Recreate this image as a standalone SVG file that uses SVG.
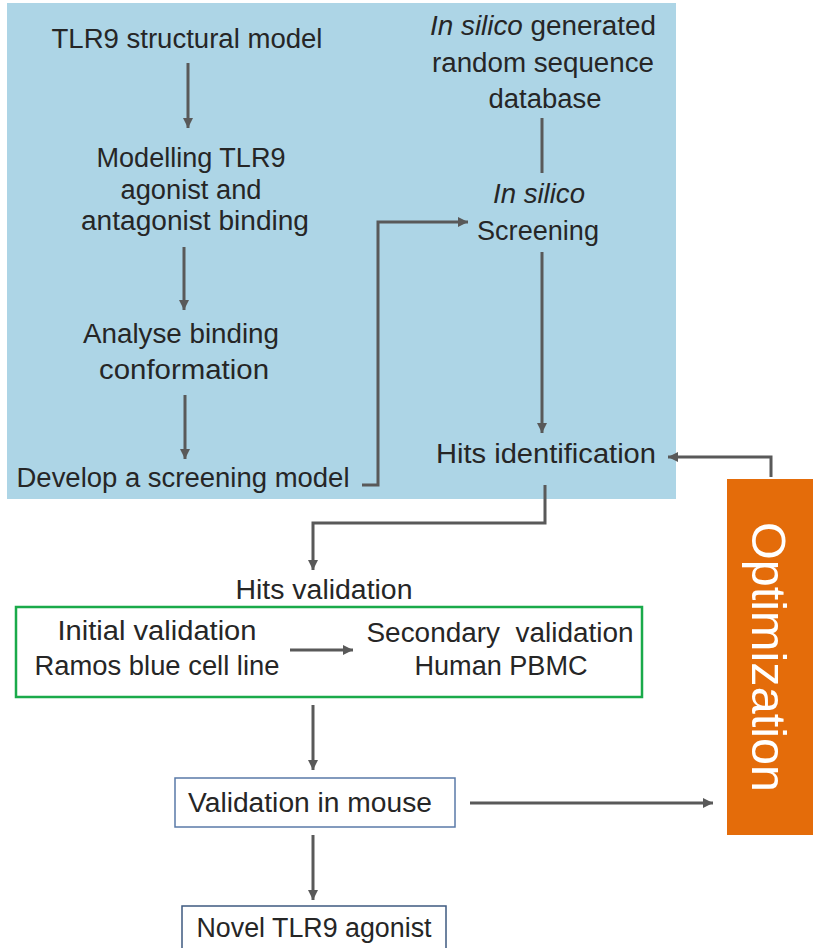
<svg xmlns="http://www.w3.org/2000/svg" width="813" height="948" viewBox="0 0 813 948">
<defs>
<marker id="ah" markerUnits="userSpaceOnUse" markerWidth="11" markerHeight="10" refX="10" refY="5" orient="auto">
<path d="M0,0 L10,5 L0,10 z" fill="#595959"/>
</marker>
<style>
.t{font-family:"Liberation Sans",Arial,sans-serif;font-size:27px;fill:#262626;text-anchor:middle}
.c{fill:none;stroke:#595959;stroke-width:3}
.a{marker-end:url(#ah)}
</style>
</defs>
<rect width="813" height="948" fill="#ffffff"/>
<g id="panel"><rect x="7" y="3" width="669" height="496" fill="#ADD5E6"/></g>

<g id="connectors">
<line class="c a" x1="188" y1="63" x2="188" y2="128"/>
<line class="c a" x1="184" y1="247" x2="184" y2="310"/>
<line class="c a" x1="185" y1="395" x2="185" y2="459"/>
<path class="c a" d="M362,485 H378 V222 H468"/>
<line class="c" x1="542" y1="118" x2="542" y2="173"/>
<line class="c a" x1="542" y1="252" x2="542" y2="433"/>
<path class="c a" d="M771,477 V457 H668"/>
<path class="c a" d="M545,485 V523 H313 V570"/>
<line class="c a" x1="290" y1="650" x2="353" y2="650"/>
<line class="c a" x1="313" y1="705" x2="313" y2="770"/>
<line class="c a" x1="313" y1="835" x2="313" y2="900"/>
<line class="c a" x1="470" y1="803" x2="713" y2="803"/>
</g>

<g id="n-structural"><text class="t" x="187" y="48" textLength="271" lengthAdjust="spacingAndGlyphs">TLR9 structural model</text></g>
<g id="n-modelling">
<text class="t" x="191" y="167" textLength="189" lengthAdjust="spacingAndGlyphs">Modelling TLR9</text>
<text class="t" x="191" y="199" textLength="141" lengthAdjust="spacingAndGlyphs">agonist and</text>
<text class="t" x="195" y="230" textLength="228" lengthAdjust="spacingAndGlyphs">antagonist binding</text>
</g>
<g id="n-analyse">
<text class="t" x="181" y="343" textLength="196" lengthAdjust="spacingAndGlyphs">Analyse binding</text>
<text class="t" x="184" y="379" textLength="170" lengthAdjust="spacingAndGlyphs">conformation</text>
</g>
<g id="n-develop"><text class="t" x="183" y="487" textLength="333" lengthAdjust="spacingAndGlyphs">Develop a screening model</text></g>
<g id="n-database">
<text class="t" x="543" y="35" textLength="226" lengthAdjust="spacingAndGlyphs"><tspan font-style="italic">In silico</tspan> generated</text>
<text class="t" x="543" y="72" textLength="222" lengthAdjust="spacingAndGlyphs">random sequence</text>
<text class="t" x="545" y="108" textLength="113" lengthAdjust="spacingAndGlyphs">database</text>
</g>
<g id="n-screening">
<text class="t" x="539" y="203" font-style="italic" textLength="92" lengthAdjust="spacingAndGlyphs">In silico</text>
<text class="t" x="538" y="240" textLength="122" lengthAdjust="spacingAndGlyphs">Screening</text>
</g>
<g id="n-hits"><text class="t" x="546" y="463" textLength="220" lengthAdjust="spacingAndGlyphs">Hits identification</text></g>
<g id="n-hitsval">
<text class="t" x="324" y="599" textLength="177" lengthAdjust="spacingAndGlyphs">Hits validation</text>
<rect x="16" y="607" width="626" height="90" fill="none" stroke="#1AAA4A" stroke-width="2.5"/>
<text class="t" x="157" y="640" textLength="199" lengthAdjust="spacingAndGlyphs">Initial validation</text>
<text class="t" x="157" y="675" textLength="245" lengthAdjust="spacingAndGlyphs">Ramos blue cell line</text>
<text class="t" x="500" y="642" textLength="267" lengthAdjust="spacingAndGlyphs" xml:space="preserve">Secondary  validation</text>
<text class="t" x="501" y="675" textLength="173" lengthAdjust="spacingAndGlyphs">Human PBMC</text>
</g>
<g id="n-mouse">
<rect x="175" y="778" width="280" height="49" fill="#ffffff" stroke="#5A7AA8" stroke-width="1.5"/>
<text class="t" x="310" y="812" textLength="244" lengthAdjust="spacingAndGlyphs">Validation in mouse</text>
</g>
<g id="n-novel">
<rect x="182" y="906" width="264" height="50" fill="#ffffff" stroke="#3E5A80" stroke-width="1.5"/>
<text class="t" x="314" y="937" textLength="235" lengthAdjust="spacingAndGlyphs">Novel TLR9 agonist</text>
</g>
<g id="n-optimization">
<rect x="727" y="479" width="90" height="356" fill="#E46C0A"/>
<text transform="translate(752,657) rotate(90)" font-family="'Liberation Sans',Arial,sans-serif" font-size="48" fill="#ffffff" text-anchor="middle" textLength="270" lengthAdjust="spacingAndGlyphs">Optimization</text>
</g>
</svg>
